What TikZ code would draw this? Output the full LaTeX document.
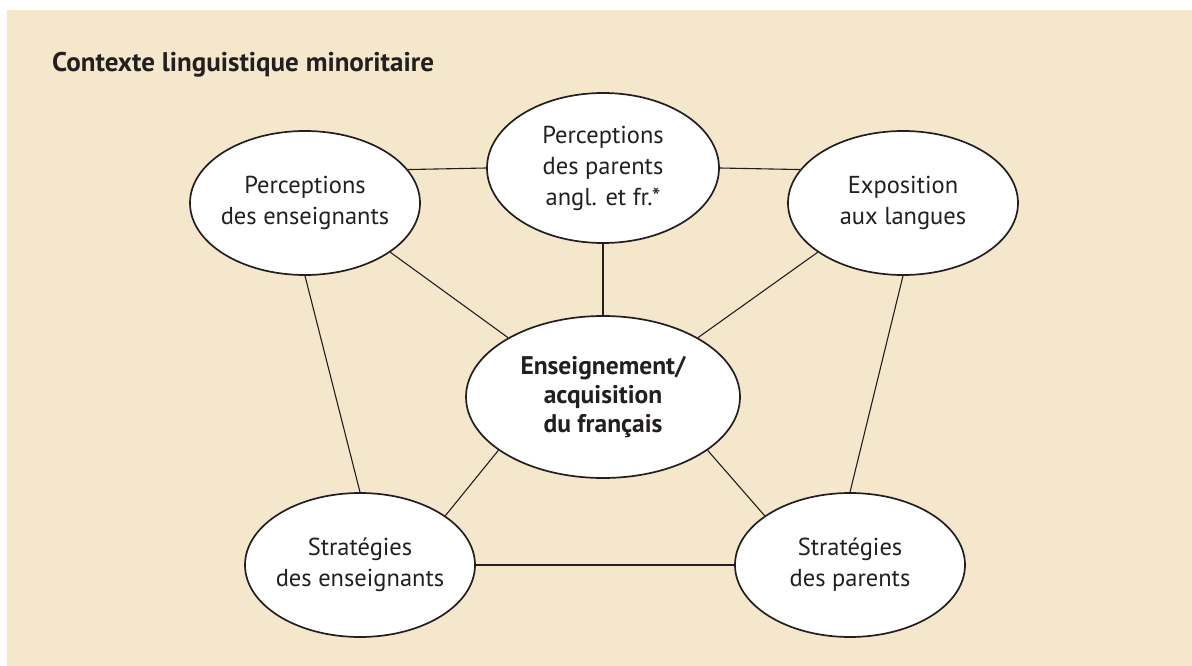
\documentclass[tikz,border=0pt]{standalone}
\usepackage{fontspec}
\setmainfont{PT Sans}
\usepackage{xcolor}
\usepackage{tikz}
\usetikzlibrary{shapes.geometric}
\definecolor{sand}{RGB}{245,231,204}
\definecolor{ink}{RGB}{35,31,32}

\begin{document}
\begin{tikzpicture}[x=1pt, y=-1pt,
    bubble/.style={draw=ink, line width=1.7pt, fill=white, ellipse, inner xsep=-40pt, inner ysep=-20pt, align=center, text=ink, font=\fontsize{24.5}{31}\selectfont, minimum width=230pt, minimum height=144pt},
    link/.style={draw=ink, line width=1.1pt}]
    \useasboundingbox (0,0) rectangle (1192,666);
    \fill[sand] (7,10) rectangle (1192,666);
    \node[anchor=west, inner sep=0pt, text=ink, font=\bfseries\fontsize{27}{32}\selectfont] (title) at (52,65) {Contexte linguistique minoritaire};

    \node[bubble] (percens) at (305,203) {Perceptions\\des enseignants};
    \node[bubble, minimum width=232pt, minimum height=150pt] (perpar) at (603,168) {Perceptions\\des parents\\angl. et fr.*};
    \node[bubble] (expo) at (903,203) {Exposition\\aux langues};
    \node[bubble, minimum width=274pt, minimum height=162pt, font=\bfseries\fontsize{25.5}{29}\selectfont] (ens) at (603,397) {Enseignement/\\acquisition\\du français};
    \node[bubble] (strens) at (360,565) {Stratégies\\des enseignants};
    \node[bubble] (strpar) at (850,565) {Stratégies\\des parents};

    \draw[link] (percens.18) -- (perpar.west);
    \draw[link] (perpar.east) -- (expo.162);
    \draw[link] (perpar.south) -- (ens.north);
    \draw[link] (percens.-30) -- (ens.148);
    \draw[link] (expo.-150) -- (ens.32);
    \draw[link] (percens.south) -- (strens.north);
    \draw[link] (expo.south) -- (strpar.north);
    \draw[link] (ens.207) -- (strens.30);
    \draw[link] (ens.-27) -- (strpar.150);
    \draw[link] (strens.east) -- (strpar.west);
\end{tikzpicture}
\end{document}
